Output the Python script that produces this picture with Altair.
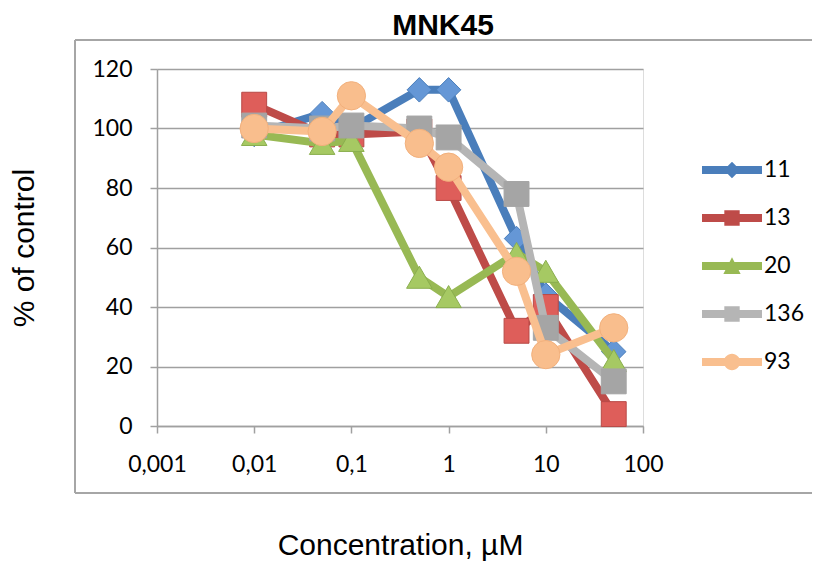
import altair as alt
import pandas as pd

# ---- data ----
conc = [0.01, 0.05, 0.1, 0.5, 1, 5, 10, 50]
series = ["11", "13", "20", "136", "93"]
v11 = [98, 105, 100, 113, 113, 63, 44, 25]
v13 = [108, 98, 98, 99, 80, 32, 40, 4]
v20 = [98, 95, 96, 50, 43.5, 58, 52, 22]
v136 = [101, 100, 101, 100, 97, 78, 33, 15]
v93 = [100, 99, 111, 95, 87, 52, 24, 33]
x_ticks = [0.001, 0.01, 0.1, 1, 10, 100]
y_ticks = [0, 20, 40, 60, 80, 100, 120]
chart_title = "MNK45"

values = {"11": v11, "13": v13, "20": v20, "136": v136, "93": v93}
rows = []
for s in series:
    for c, v in zip(conc, values[s]):
        rows.append({"series": s, "conc": c, "value": v})
df = pd.DataFrame(rows)

# ---- styles ----
line_colors = ["#4A7EBB", "#BE4B48", "#98B954", "#B5B5B5", "#F9BF8F"]
marker_shapes = ["diamond", "square", "triangle-up", "square", "circle"]
marker_fill = ["#6597D6", "#DE5E5A", "#A6C963", "#A5A5A5", "#F9BE8D"]
marker_stroke = ["#4A7EBB", "#B84A47", "#8AAE4E", "#A5A5A5", "#F2B07C"]
marker_size = [600, 620, 650, 620, 800]

bar = "M-1.25,-0.17 L1.25,-0.17 L1.25,0.17 L-1.25,0.17 Z "
legend_paths = [
    bar + "M0,-0.34 L0.34,0 L0,0.34 L-0.34,0 Z",
    bar + "M-0.32,-0.32 L0.32,-0.32 L0.32,0.32 L-0.32,0.32 Z",
    bar + "M0,-0.36 L0.36,0.33 L-0.36,0.33 Z",
    bar + "M-0.32,-0.32 L0.32,-0.32 L0.32,0.32 L-0.32,0.32 Z",
    bar + "M-0.34,0 A0.34,0.34 0 1,1 0.34,0 A0.34,0.34 0 1,1 -0.34,0 Z",
]

AX = "#A0A0A0"
FRAME = "#A6A6A6"
color_scale = alt.Scale(domain=series, range=line_colors)
shape_scale = alt.Scale(domain=series, range=legend_paths)

x_enc = alt.X(
    "conc:Q",
    scale=alt.Scale(type="log", domain=[0.001, 100]),
    axis=alt.Axis(
        values=x_ticks,
        labelExpr="replace(toString(datum.value), '.', ',')",
        grid=False,
        tickSize=7,
        tickColor=AX,
        tickWidth=1.5,
        domainColor=AX,
        domainWidth=1.5,
        labelFont="Lato",
        labelFontSize=23,
        labelColor="#000000",
        labelPadding=20,
        labelFlush=False,
        title="Concentration, µM",
        titleFont="Liberation Sans",
        titleFontSize=30,
        titleFontWeight="normal",
        titleColor="#000000",
        titlePadding=54,
    ),
)
y_enc = alt.Y(
    "value:Q",
    scale=alt.Scale(domain=[0, 120], nice=False),
    axis=alt.Axis(
        values=y_ticks,
        grid=True,
        gridColor=AX,
        gridWidth=1.5,
        tickSize=7,
        tickColor=AX,
        tickWidth=1.5,
        domainColor=AX,
        domainWidth=1.5,
        labelFont="Lato",
        labelFontSize=23,
        labelColor="#000000",
        labelPadding=18,
        title="% of control",
        titleFont="Liberation Sans",
        titleFontSize=30,
        titleFontWeight="normal",
        titleColor="#000000",
        titlePadding=52,
    ),
)

one = pd.DataFrame({"a": [0]})
frame_top = alt.Chart(one).mark_rule(stroke=FRAME, strokeWidth=2).encode(
    x=alt.value(-82), x2=alt.value(660), y=alt.value(-29)
)
frame_left = alt.Chart(one).mark_rule(stroke=FRAME, strokeWidth=2).encode(
    x=alt.value(-82), y=alt.value(-29), y2=alt.value(424)
)
frame_bottom = alt.Chart(one).mark_rule(stroke=FRAME, strokeWidth=2).encode(
    x=alt.value(-82), x2=alt.value(660), y=alt.value(424)
)
title_text = alt.Chart(one).mark_text(
    font="Liberation Sans", fontSize=30, fontWeight="bold", color="#000000",
    align="center", baseline="alphabetic",
).encode(x=alt.value(286), y=alt.value(-34), text=alt.value(chart_title))

layers = [frame_top, frame_left, frame_bottom, title_text]
for i, s in enumerate(series):
    sub = alt.Chart(df).transform_filter(alt.datum.series == s)
    line = sub.mark_line(
        strokeWidth=8, strokeJoin="round", strokeCap="round", stroke=line_colors[i]
    ).encode(x=x_enc, y=y_enc)
    pts = sub.mark_point(
        shape=marker_shapes[i], filled=True, opacity=1,
        size=marker_size[i], fill=marker_fill[i],
        stroke=marker_stroke[i], strokeWidth=1,
    ).encode(x=x_enc, y=y_enc)
    layers += [line, pts]

leg = alt.Legend(
    title=None,
    orient="none",
    legendX=551,
    legendY=77,
    direction="vertical",
    symbolSize=2304,
    symbolStrokeWidth=0,
    labelFont="Lato",
    labelFontSize=23,
    labelColor="#000000",
    labelOffset=8,
    rowPadding=12,
    padding=0,
)
legend_layer = alt.Chart(df).transform_filter("false").mark_point(
    filled=True, opacity=1
).encode(
    x=x_enc, y=y_enc,
    color=alt.Color("series:N", scale=color_scale, legend=leg),
    shape=alt.Shape("series:N", scale=shape_scale, legend=leg),
)
layers.append(legend_layer)

chart = alt.layer(*layers).properties(
    width=486,
    height=357,
    autosize=alt.AutoSizeParams(type="none"),
    padding={"left": 149, "top": 61, "right": 169, "bottom": 135},
).configure_view(stroke=None).configure(background="white")

chart.save("out.html", embed_options={"renderer": "svg", "actions": False})
